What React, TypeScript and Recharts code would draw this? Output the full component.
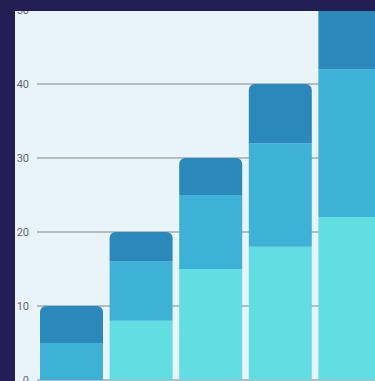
import React from "react";
import { BarChart, Bar, XAxis, YAxis, CartesianGrid } from "recharts";

// Stacked values per group, bottom to top
const categories = ["A", "B", "C", "D", "E"];
const baseValues = [0, 8, 15, 18, 22];
const middleValues = [5, 8, 10, 14, 20];
const topValues = [5, 4, 5, 8, 10];
const yTicks = [0, 10, 20, 30, 40, 50];

const data = categories.map((name, i) => ({
  name,
  base: baseValues[i],
  middle: middleValues[i],
  top: topValues[i],
}));

export default function App() {
  return (
    <div
      style={{
        position: "fixed",
        left: 0,
        top: 0,
        width: 375,
        height: 381,
        background: "#231f54",
        overflow: "hidden",
      }}
    >
      <div
        style={{
          position: "absolute",
          left: 15,
          top: 11,
          right: 0,
          bottom: 0,
          background: "#e9f3fa",
          overflow: "hidden",
        }}
      >
        <div style={{ position: "absolute", left: -15, top: -91 }}>
          <BarChart
            width={400}
            height={470}
            data={data}
            margin={{ top: 16, right: 15, bottom: 10, left: 0 }}
          >
            <CartesianGrid vertical={false} stroke="#a0a8b0" strokeWidth={1.5} />
            <XAxis dataKey="name" hide />
            <YAxis
              width={37}
              domain={[0, 60]}
              ticks={yTicks}
              tickLine={false}
              axisLine={false}
              tick={{ fill: "#656a74", fontSize: 11, fontFamily: "Roboto" }}
            />
            <Bar dataKey="base" stackId="s" fill="#62dde2" barSize={63} isAnimationActive={false} />
            <Bar dataKey="middle" stackId="s" fill="#3db2d6" barSize={63} isAnimationActive={false} />
            <Bar
              dataKey="top"
              stackId="s"
              fill="#2b88bb"
              barSize={63}
              radius={[6, 6, 0, 0]}
              isAnimationActive={false}
            />
          </BarChart>
        </div>
      </div>
    </div>
  );
}
